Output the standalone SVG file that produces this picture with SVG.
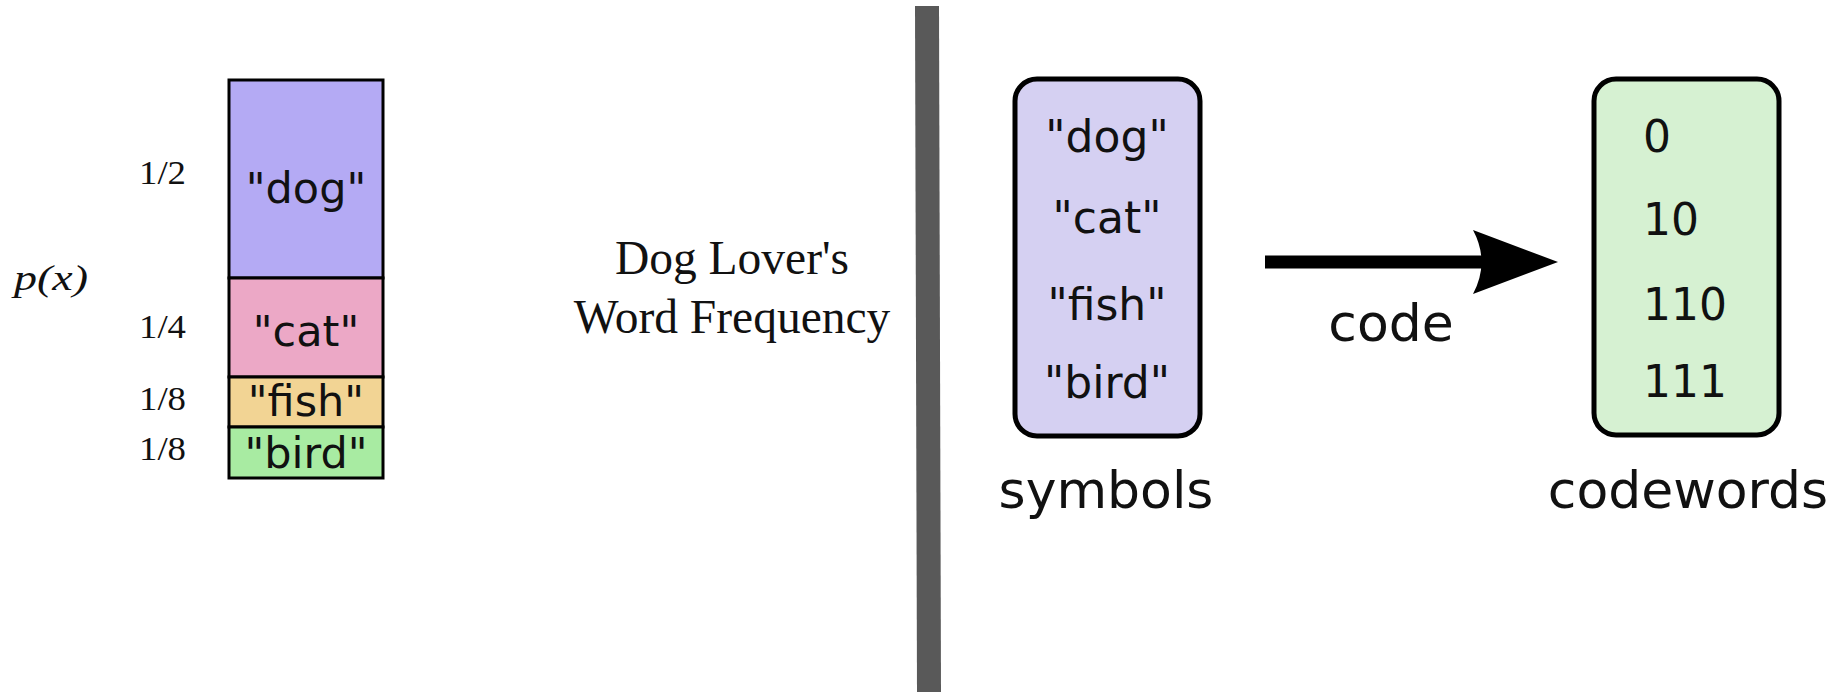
<svg xmlns="http://www.w3.org/2000/svg" width="1835" height="692" viewBox="0 0 1835 692">
<style>
.serif{font-family:"Liberation Serif","Times New Roman",serif;fill:#111}
.sans{font-family:"DejaVu Sans","Liberation Sans",sans-serif;fill:#111}
.frac{font-size:33px}
.bx{font-size:43px;text-anchor:middle}
.sym{font-size:44px;text-anchor:middle}
.cw{font-size:44px}
.lbl{font-size:52px;text-anchor:middle}
.bar{stroke:#000;stroke-width:3}
.rbox{stroke:#000;stroke-width:5}
</style>
<rect width="1835" height="692" fill="#fff"/>
<g id="pmf">
  <rect class="bar" x="229" y="80" width="154" height="198" fill="#b4aaf4"/>
  <rect class="bar" x="229" y="278" width="154" height="99" fill="#eca8c6"/>
  <rect class="bar" x="229" y="377" width="154" height="50" fill="#f2d494"/>
  <rect class="bar" x="229" y="427" width="154" height="51" fill="#a8eba2"/>
  <text class="sans bx" x="306" y="203">"dog"</text>
  <text class="sans bx" x="306" y="346">"cat"</text>
  <text class="sans bx" x="306" y="416">"fish"</text>
  <text class="sans bx" x="306" y="468">"bird"</text>
  <text class="serif frac" x="139" y="184" textLength="47" lengthAdjust="spacingAndGlyphs">1/2</text>
  <text class="serif frac" x="139" y="338" textLength="47" lengthAdjust="spacingAndGlyphs">1/4</text>
  <text class="serif frac" x="139" y="410" textLength="47" lengthAdjust="spacingAndGlyphs">1/8</text>
  <text class="serif frac" x="139" y="460" textLength="47" lengthAdjust="spacingAndGlyphs">1/8</text>
  <text class="serif" x="14" y="290" font-size="36" font-style="italic" textLength="74" lengthAdjust="spacingAndGlyphs">p(x)</text>
</g>
<g id="title">
  <text class="serif" x="732" y="274" font-size="47.5" text-anchor="middle">Dog Lover's</text>
  <text class="serif" x="732" y="333" font-size="47.5" text-anchor="middle">Word Frequency</text>
</g>
<g id="divider">
  <polygon points="915,6 939,6 941,692 917,692" fill="#595959"/>
</g>
<g id="symbols">
  <rect class="rbox" x="1015" y="79" width="185" height="357" rx="22" fill="#d5d0f2"/>
  <text class="sans sym" x="1107" y="152">"dog"</text>
  <text class="sans sym" x="1107" y="233">"cat"</text>
  <text class="sans sym" x="1107" y="320">"fish"</text>
  <text class="sans sym" x="1107" y="398">"bird"</text>
  <text class="sans lbl" x="1106" y="508">symbols</text>
</g>
<g id="codewords">
  <rect class="rbox" x="1594" y="79" width="185" height="356" rx="22" fill="#d6f1d2"/>
  <text class="sans cw" x="1643" y="152">0</text>
  <text class="sans cw" x="1643" y="235">10</text>
  <text class="sans cw" x="1643" y="320">110</text>
  <text class="sans cw" x="1643" y="397">111</text>
  <text class="sans lbl" x="1688" y="508">codewords</text>
</g>
<g id="connectors">
  <line x1="1265" y1="262" x2="1485" y2="262" stroke="#000" stroke-width="13"/>
  <path d="M1473,230 L1558,262 L1473,294 Q1490,262 1473,230 Z" fill="#000"/>
  <text class="sans lbl" x="1391" y="341">code</text>
</g>
</svg>
